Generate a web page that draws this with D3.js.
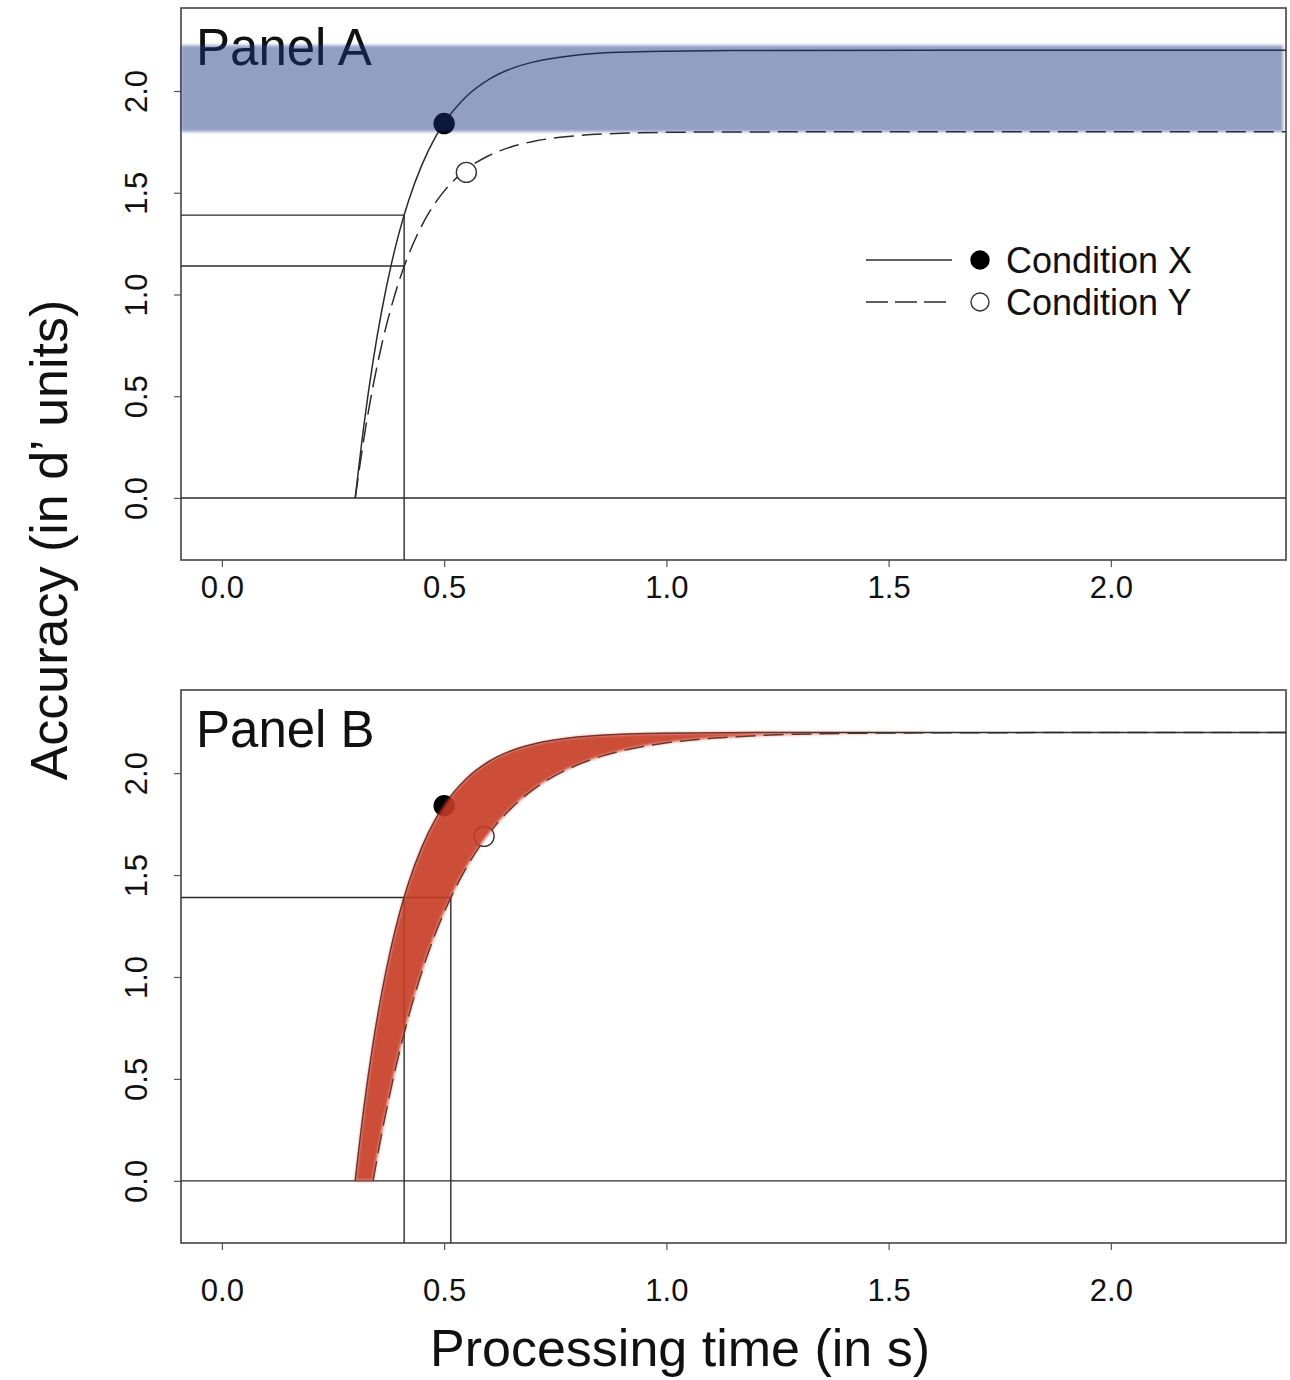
<!DOCTYPE html>
<html>
<head>
<meta charset="utf-8">
<script src="https://cdn.jsdelivr.net/npm/d3@7"></script>
<style>
  body { margin: 0; background: #fff; }
  svg { display: block; font-family: "Liberation Sans", Arial, sans-serif; }
</style>
</head>
<body>
<div id="chart"></div>
<script>
// values
const tickVals = [0, 0.5, 1, 1.5, 2];
const xDomain = [-0.092, 2.394];
const yDomain = [-0.305, 2.408];

// panel A curves (time in s, accuracy in d')
const timeA = [0.30, 0.32, 0.34, 0.36, 0.38, 0.40, 0.42, 0.45, 0.48, 0.50, 0.55, 0.60, 0.65, 0.70, 0.80, 0.90, 1.0, 1.2, 1.6, 2.4];
const accXA = [0, 0.366, 0.671, 0.925, 1.137, 1.314, 1.461, 1.637, 1.772, 1.843, 1.973, 2.056, 2.109, 2.142, 2.177, 2.191, 2.196, 2.199, 2.2, 2.2];
const accYA = [0, 0.299, 0.549, 0.757, 0.930, 1.075, 1.195, 1.340, 1.450, 1.508, 1.615, 1.682, 1.725, 1.752, 1.781, 1.792, 1.797, 1.799, 1.8, 1.8];

// panel B: condition X same as A, condition Y delayed
const timeYB = [0.34, 0.36, 0.38, 0.40, 0.42, 0.45, 0.48, 0.50, 0.55, 0.60, 0.65, 0.70, 0.80, 0.90, 1.0, 1.1, 1.2, 1.4, 1.6, 2.4];
const accYB = [0, 0.238, 0.449, 0.639, 0.807, 1.027, 1.212, 1.318, 1.537, 1.702, 1.826, 1.919, 2.041, 2.110, 2.149, 2.171, 2.184, 2.195, 2.198, 2.2];

const pointsA = [{ cond: "X", t: 0.5, acc: 1.84 }, { cond: "Y", t: 0.55, acc: 1.6 }];
const pointsB = [{ cond: "X", t: 0.5, acc: 1.84 }, { cond: "Y", t: 0.59, acc: 1.69 }];

const bandA = [1.8, 2.225];
// reference lines: [time, accuracy]
const guidesA = { vert: [[0.41, 1.39]], horiz: [[1.39, 0.41], [1.14, 0.41]] };
const guidesB = { vert: [[0.41, 1.39], [0.515, 1.39]], horiz: [[1.39, 0.515]] };

const legendItems = ["Condition X", "Condition Y"];

const W = 1290, H = 1380;
const svg = d3.select("#chart").append("svg").attr("width", W).attr("height", H);

const defs = svg.append("defs");
defs.append("filter").attr("id", "soft").attr("x", "-5%").attr("y", "-20%").attr("width", "110%").attr("height", "140%")
  .append("feGaussianBlur").attr("stdDeviation", 1.6);

const x = d3.scaleLinear().domain(xDomain).range([181, 1286]);
const lineCol = "#2b2b2b";

function drawPanel(top, bottom, label, labelGap, id) {
  const y = d3.scaleLinear().domain(yDomain).range([bottom, top]);
  const g = svg.append("g");

  defs.append("clipPath").attr("id", "clip" + id)
    .append("rect").attr("x", 181).attr("y", top).attr("width", 1286 - 181).attr("height", bottom - top);

  // x axis
  const xa = g.append("g").attr("transform", "translate(0," + bottom + ")")
    .call(d3.axisBottom(x).tickValues(tickVals).tickSize(7).tickFormat(d3.format(".1f")));
  xa.select(".domain").remove();
  xa.selectAll("line").attr("stroke", "#555").attr("stroke-width", 1.2);
  xa.selectAll("text").attr("y", labelGap).attr("dy", "0.35em")
    .attr("font-size", 31).attr("fill", "#111").attr("font-family", "Liberation Sans, Arial, sans-serif");

  // y axis, labels turned
  const ya = g.append("g").attr("transform", "translate(181,0)")
    .call(d3.axisLeft(y).tickValues(tickVals).tickSize(7).tickFormat(d3.format(".1f")));
  ya.select(".domain").remove();
  ya.selectAll("line").attr("stroke", "#555").attr("stroke-width", 1.2);
  ya.selectAll("text").attr("transform", "rotate(-90)").attr("x", 0).attr("y", -34).attr("dy", 0)
    .attr("text-anchor", "middle").attr("font-size", 31).attr("fill", "#111")
    .attr("font-family", "Liberation Sans, Arial, sans-serif");

  // box
  g.append("rect").attr("x", 181).attr("y", top).attr("width", 1286 - 181).attr("height", bottom - top)
    .attr("fill", "none").attr("stroke", "#444").attr("stroke-width", 1.6);

  const plot = g.append("g").attr("clip-path", "url(#clip" + id + ")");

  // zero line
  plot.append("line").attr("x1", 181).attr("x2", 1286).attr("y1", y(0)).attr("y2", y(0))
    .attr("stroke", lineCol).attr("stroke-width", 1.4);

  g.append("text").attr("x", 196).attr("y", top + 57).attr("font-size", 51).attr("fill", "#111").text(label);

  return { y: y, g: g, plot: plot };
}

function drawGuides(p, guides) {
  guides.vert.forEach(d => {
    p.plot.append("line").attr("x1", x(d[0])).attr("x2", x(d[0]))
      .attr("y1", p.y(yDomain[0])).attr("y2", p.y(d[1]))
      .attr("stroke", lineCol).attr("stroke-width", 1.4);
  });
  guides.horiz.forEach(d => {
    p.plot.append("line").attr("x1", 181).attr("x2", x(d[1]))
      .attr("y1", p.y(d[0])).attr("y2", p.y(d[0]))
      .attr("stroke", lineCol).attr("stroke-width", 1.4);
  });
}

function drawCurve(p, ts, vals, dashed) {
  const line = d3.line().x(d => x(d[0])).y(d => p.y(d[1])).curve(d3.curveMonotoneX);
  p.plot.append("path").datum(d3.zip(ts, vals)).attr("d", line)
    .attr("fill", "none").attr("stroke", lineCol).attr("stroke-width", 1.5)
    .attr("stroke-dasharray", dashed ? "20,8" : null);
}

function drawPoints(p, pts) {
  p.plot.selectAll(null).data(pts).enter().append("circle")
    .attr("cx", d => x(d.t)).attr("cy", d => p.y(d.acc)).attr("r", 10)
    .attr("fill", d => d.cond === "X" ? "#000" : "#fff")
    .attr("stroke", d => d.cond === "X" ? "#000" : "#333").attr("stroke-width", 1.4);
}

// Panel A
const pA = drawPanel(8, 560, "Panel A", 27, "A");
drawGuides(pA, guidesA);
drawCurve(pA, timeA, accXA, false);
drawCurve(pA, timeA, accYA, true);
drawPoints(pA, pointsA);

// blue band over everything in panel A
pA.g.append("rect").attr("x", 181).attr("width", 1283 - 181)
  .attr("y", pA.y(bandA[1])).attr("height", pA.y(bandA[0]) - pA.y(bandA[1]))
  .attr("fill", "rgb(21,52,125)").attr("fill-opacity", 0.47).attr("filter", "url(#soft)");

// legend
const leg = svg.append("g");
legendItems.forEach((name, i) => {
  const ly = 260 + i * 42;
  leg.append("line").attr("x1", 866).attr("x2", 952).attr("y1", ly).attr("y2", ly)
    .attr("stroke", lineCol).attr("stroke-width", 1.5).attr("stroke-dasharray", i ? "22,7" : null);
  leg.append("circle").attr("cx", 980).attr("cy", ly).attr("r", 9)
    .attr("fill", i ? "#fff" : "#000").attr("stroke", i ? "#333" : "#000").attr("stroke-width", 1.4);
  leg.append("text").attr("x", 1006).attr("y", ly + 13).attr("font-size", 36).attr("fill", "#111").text(name);
});

// Panel B
const pB = drawPanel(690, 1243, "Panel B", 47, "B");
drawGuides(pB, guidesB);
drawCurve(pB, timeA, accXA, false);
drawCurve(pB, timeYB, accYB, true);
drawPoints(pB, pointsB);

// red band between the two curves
const upper = d3.zip(timeA, accXA).filter(d => d[0] <= 1.6);
const lower = d3.zip(timeYB, accYB).filter(d => d[0] <= 1.6).reverse();
const bandLine = d3.line().x(d => x(d[0])).y(d => pB.y(d[1])).curve(d3.curveMonotoneX);
pB.plot.append("path")
  .attr("d", bandLine(upper) + "L" + bandLine(lower).slice(1) + "Z")
  .attr("fill", "rgb(198,58,36)").attr("fill-opacity", 0.9).attr("filter", "url(#soft)");

// axis titles
svg.append("text").attr("x", 680).attr("y", 1366).attr("text-anchor", "middle")
  .attr("font-size", 52).attr("fill", "#111").text("Processing time (in s)");
svg.append("text").attr("transform", "translate(67,540) rotate(-90)").attr("text-anchor", "middle")
  .attr("font-size", 52).attr("fill", "#111").text("Accuracy (in d\u2019 units)");
</script>
</body>
</html>
